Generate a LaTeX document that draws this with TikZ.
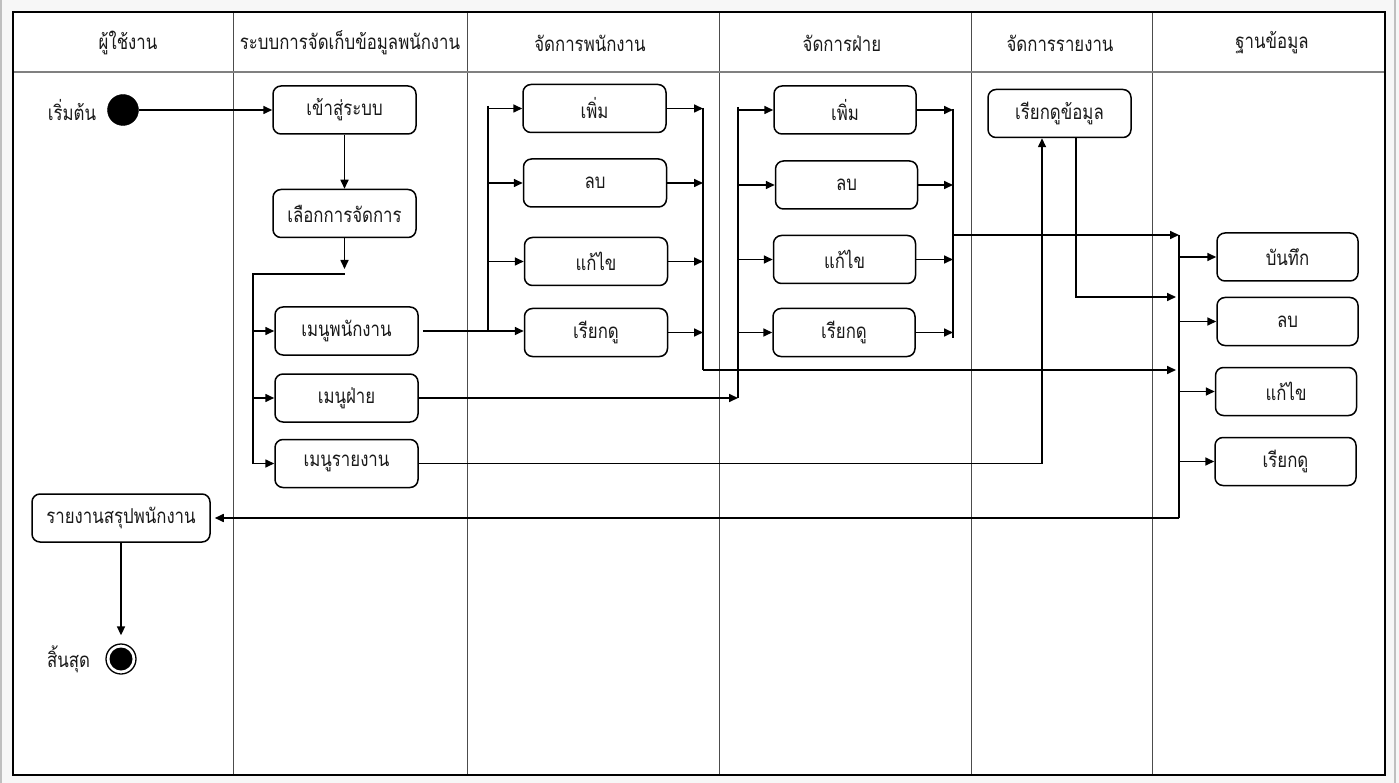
\documentclass[tikz,border=0pt]{standalone}
\usepackage{fontspec}
\newfontfamily\thaifont[Script=Thai,FakeStretch=0.82]{Loma}
\usetikzlibrary{arrows.meta}
\begin{document}
\begin{tikzpicture}[x=1pt,y=-1pt,
  every node/.style={font=\thaifont\fontsize{20.5}{24}\selectfont, text=black!90},
  act/.style={draw, line width=1.5pt, rounded corners=8pt, minimum width=143pt,
              minimum height=48pt, inner sep=0pt},
  wire/.style={line width=1.6pt},
  arr/.style={wire, -{Triangle[length=9pt,width=8pt]}},
  lane/.style={line width=0.9pt, draw=black!70},
  startdot/.style={circle, fill=black, draw, minimum size=31pt, inner sep=0pt},
  enddot/.style={circle, draw, line width=1.3pt, fill=white, minimum size=30pt, inner sep=0pt,
                 path picture={\fill[black] (path picture bounding box.center) circle (11.5pt);}}
]
\useasboundingbox (0,0) rectangle (1399,783);
% page and frame
\fill[black!3] (0,0) rectangle (1399,783);
\fill[white] (13,12) rectangle (1385,775);
\draw[black!25, line width=2pt] (1,0) -- (1,783);
\draw[black!25, line width=1.5pt] (1395,0) -- (1395,783);
\foreach \x in {233,467,719,971,1152} \draw[lane] (\x,12) -- (\x,775);
\draw[black!50, line width=1.6pt] (13,72) -- (1385,72);
\draw[line width=2pt] (13,12) rectangle (1385,775);

% swimlane headers
\node (h1) at (128,43) {ผู้ใช้งาน};
\node (h2) at (350,43) {ระบบการจัดเก็บข้อมูลพนักงาน};
\node (h3) at (590,43) {จัดการพนักงาน};
\node (h4) at (842,43) {จัดการฝ่าย};
\node (h5) at (1060,43) {จัดการรายงาน};
\node (h6) at (1272,43) {ฐานข้อมูล};

% user lane
\node[startdot] (start) at (123,110) {};
\node (startlbl) at (72,110) {เริ่มต้น};
\node[act, minimum width=178pt] (report) at (121,518) {รายงานสรุปพนักงาน};
\node[enddot] (end) at (121,659) {};
\node (endlbl) at (68.5,659) {สิ้นสุด};

% system lane
\node[act] (login) at (344.5,110) {เข้าสู่ระบบ};
\node[act] (choose) at (344.5,213.5) {เลือกการจัดการ};
\coordinate (barTip) at (344.5,269);
\coordinate (barR) at (344.5,274);
\coordinate (barL) at (253,274);
\node[act] (mEmp) at (346.5,331) {เมนูพนักงาน};
\node[act] (mDep) at (346.5,398) {เมนูฝ่าย};
\node[act] (mRep) at (346.5,463.5) {เมนูรายงาน};

% employee lane
\node[act] (eAdd) at (594.5,108.5) {เพิ่ม};
\node[act] (eDel) at (595,183) {ลบ};
\node[act] (eEdit) at (596,261.5) {แก้ไข};
\node[act] (eView) at (596,332.5) {เรียกดู};
\coordinate (eFork) at (488,106);
\coordinate (eJoinT) at (703,108);
\coordinate (eJoinB) at (703,370);

% department lane
\node[act, minimum width=142pt] (dAdd) at (845,110) {เพิ่ม};
\node[act, minimum width=142pt] (dDel) at (846.5,185) {ลบ};
\node[act, minimum width=142pt] (dEdit) at (844.5,259.5) {แก้ไข};
\node[act, minimum width=142pt] (dView) at (844,332.5) {เรียกดู};
\coordinate (dFork) at (738,107);
\coordinate (dJoinT) at (953,109);
\coordinate (dJoinB) at (953,338);
\coordinate (dOut) at (953,235);

% report lane
\node[act] (rView) at (1059.5,113.5) {เรียกดูข้อมูล};
\coordinate (rOutY) at (1176,297);

% database lane
\node[act, minimum width=141pt] (bSave) at (1287.5,257) {บันทึก};
\node[act, minimum width=141pt] (bDel) at (1287.5,321.5) {ลบ};
\node[act, minimum width=141pt] (bEdit) at (1286,391.5) {แก้ไข};
\node[act, minimum width=141pt] (bView) at (1285.5,461.5) {เรียกดู};
\coordinate (dbT) at (1179,235);
\coordinate (dbB) at (1179,518);

% flow: start to menus
\draw[arr] (start) -- (login);
\draw[arr] (login) -- (choose);
\draw[arr] (choose) -- (barTip);
\draw[wire] (barR) -- (barL) -- (barL |- mRep.west);
\foreach \n in {mEmp,mDep,mRep} \draw[arr] (barL |- \n.west) -- (\n.west);

% employee operations
\draw[arr, shorten <=4pt] (mEmp.east) -- (mEmp.east -| eView.west);
\draw[wire] (eFork) -- (eFork |- mEmp.east);
\foreach \n in {eAdd,eDel,eEdit} \draw[arr] (eFork |- \n.west) -- (\n.west);
\foreach \n in {eAdd,eDel,eEdit,eView} \draw[arr] (\n.east) -- (eJoinT |- \n.east);
\draw[wire] (eJoinT) -- (eJoinB);
\draw[arr, shorten >=3pt] (eJoinB) -- (dbT |- eJoinB);

% department operations
\draw[arr] (mDep.east) -- (dFork |- mDep.east);
\draw[wire] (dFork) -- (dFork |- mDep.east);
\foreach \n in {dAdd,dDel,dEdit,dView} \draw[arr] (dFork |- \n.west) -- (\n.west);
\foreach \n in {dAdd,dDel,dEdit,dView} \draw[arr] (\n.east) -- (dJoinT |- \n.east);
\draw[wire] (dJoinT) -- (dJoinB);
\draw[arr] (dOut) -- (dbT);

% report operations
\draw[arr] (mRep.east) -| ([xshift=-17.5pt]rView.south);
\draw[arr] ([xshift=16.5pt]rView.south) |- (rOutY);

% database operations
\draw[wire] (dbT) -- (dbB);
\foreach \n in {bSave,bDel,bEdit,bView} \draw[arr] (dbT |- \n.west) -- (\n.west);
\draw[arr, shorten >=4pt] (dbB) -- (dbB -| report.east);
\draw[arr, shorten >=8pt] (report) -- (end);
\end{tikzpicture}
\end{document}
